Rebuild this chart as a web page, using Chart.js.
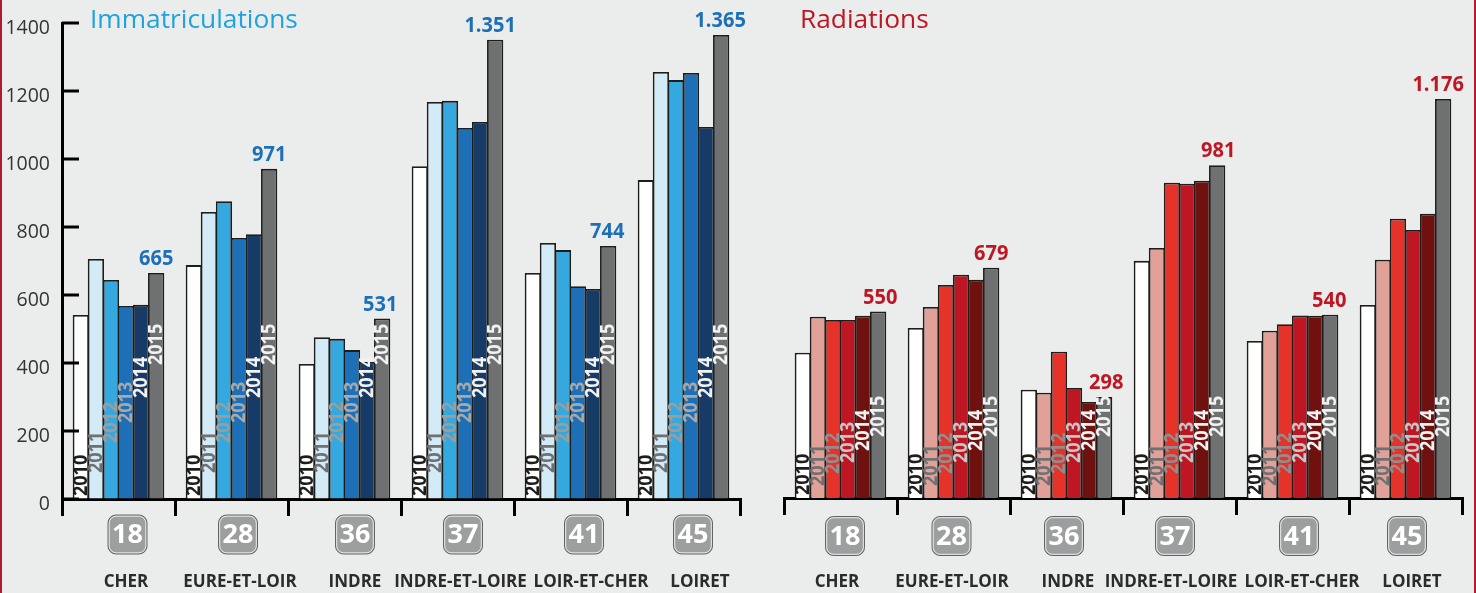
<!DOCTYPE html>
<html><head><meta charset="utf-8">
<style>
html,body{margin:0;padding:0;background:#ebecec;width:1476px;height:593px;overflow:hidden}
canvas{position:absolute;top:0}
.edge{position:absolute;top:0;width:2px;height:593px;background:#b01c2e}
</style>
<script src="https://cdn.jsdelivr.net/npm/chart.js@4/dist/chart.umd.min.js"></script>
</head><body>
<div class="edge" style="left:0"></div>
<div class="edge" style="left:1474px"></div>
<canvas id="left" width="760" height="593" style="left:0"></canvas>
<canvas id="right" width="714" height="593" style="left:760px"></canvas>
<script>
const years = ['2010','2011','2012','2013','2014','2015'];
const codes = ['18','28','36','37','41','45'];
const departments = ['CHER','EURE-ET-LOIR','INDRE','INDRE-ET-LOIRE','LOIR-ET-CHER','LOIRET'];
const yTicks = [0,200,400,600,800,1000,1200,1400];

const immat2010 = [541,688,397,979,665,938];
const immat2011 = [706,844,476,1168,753,1256];
const immat2012 = [644,876,471,1171,732,1232];
const immat2013 = [568,768,438,1091,626,1253];
const immat2014 = [571,779,403,1109,618,1094];
const immat2015 = [665,971,531,1351,744,1365];
const immatLabels = ['665','971','531','1.351','744','1.365'];

const radia2010 = [428,501,319,699,463,569];
const radia2011 = [534,563,310,737,493,702];
const radia2012 = [525,628,431,929,512,823];
const radia2013 = [525,658,324,926,538,790];
const radia2014 = [537,643,283,935,537,838];
const radia2015 = [550,679,298,981,540,1176];
const radiaLabels = ['550','679','298','981','540','1.176'];

const blues = ['#ffffff','#d3eaf7','#35a8e0','#1d70b7','#153b66','#6f7072'];
const reds  = ['#ffffff','#e2a198','#e6332a','#be1622','#6f120f','#6f7072'];
const FONT = '"Open Sans"';

function rr(ctx,x,y,w,h,r){ctx.beginPath();ctx.roundRect(x,y,w,h,r);}

function overlay(cfg){
  return {
    id:'overlay',
    afterDatasetsDraw(chart){
      const ctx=chart.ctx, x=chart.scales.x, y=chart.scales.y, base=y.getPixelForValue(0);
      ctx.save();
      if(cfg.yAxis){
        ctx.strokeStyle='#000';ctx.lineWidth=3;
        ctx.font='19.5px '+FONT;ctx.fillStyle='#333';ctx.textAlign='right';ctx.textBaseline='middle';
        yTicks.forEach(v=>{
          const p=y.getPixelForValue(v);
          ctx.beginPath();ctx.moveTo(x.left,p);ctx.lineTo(x.left+17,p);ctx.stroke();
          ctx.fillText(String(v),50,p+5);
        });
      }
      ctx.font='bold 18px '+FONT;ctx.textAlign='left';ctx.textBaseline='middle';
      chart.data.datasets.forEach((d,i)=>{
        chart.getDatasetMeta(i).data.forEach(bar=>{
          ctx.save();
          ctx.translate(bar.x,base-cfg.yearLift[i]);
          ctx.rotate(-Math.PI/2);
          ctx.scale(1,1.12);
          ctx.fillStyle=cfg.yearColors[i];
          ctx.fillText(d.label,0,0.5);
          ctx.restore();
        });
      });
      ctx.font='bold 22px '+FONT;ctx.textAlign='center';ctx.textBaseline='middle';ctx.fillStyle=cfg.valueColor;
      const last=chart.getDatasetMeta(5).data;
      last.forEach((bar,i)=>{
        ctx.save();
        ctx.translate(bar.x+cfg.valueShift[i],bar.y-14);
        ctx.scale(0.91,1);
        ctx.fillText(cfg.valueLabels[i],0,0);
        ctx.restore();
      });
      codes.forEach((c,i)=>{
        const cx=x.getPixelForValue(i)+cfg.badgeShift[i], cy=cfg.badgeY;
        rr(ctx,cx-19.5,cy-19.5,39,39,8);ctx.fillStyle='#9d9e9f';ctx.fill();
        ctx.strokeStyle='#4a4a4a';ctx.lineWidth=0.8;ctx.stroke();
        rr(ctx,cx-18.3,cy-18.3,36.6,36.6,7);ctx.strokeStyle='#f4f4f4';ctx.lineWidth=0.9;ctx.stroke();
        ctx.fillStyle='#fff';ctx.font='bold 27px '+FONT;ctx.textAlign='center';ctx.textBaseline='middle';
        ctx.fillText(c,cx,cy+1);
        ctx.fillStyle='#2b2b2b';ctx.font='bold 17px '+FONT;
        ctx.fillText(departments[i],x.getPixelForValue(i)+cfg.nameShift[i],582);
      });
      ctx.fillStyle=cfg.titleColor;ctx.font='26.3px '+FONT;ctx.textAlign='left';ctx.textBaseline='middle';
      ctx.fillText(cfg.title,cfg.titleX,21);
      ctx.restore();
    }
  };
}

function build(id,series,colors,cfg){
  new Chart(document.getElementById(id),{
    type:'bar',
    data:{labels:departments,datasets:series.map((s,i)=>({
      label:years[i],data:s,backgroundColor:colors[i],
      borderColor:'#1d1d1b',borderWidth:1.8,
      categoryPercentage:0.8,barPercentage:1.08
    }))},
    options:{
      responsive:false,animation:false,
      layout:{padding:cfg.padding},
      plugins:{legend:{display:false},tooltip:{enabled:false},title:{display:false}},
      scales:{
        x:{
          offset:true,
          grid:{offset:true,drawOnChartArea:false,drawTicks:true,tickLength:17,color:'#000',lineWidth:3},
          border:{display:true,color:'#000',width:3},
          ticks:{display:false},
          afterFit(s){s.height=593-cfg.baseY;}
        },
        y:{
          display:cfg.yAxis,min:0,max:1400,
          grid:{drawOnChartArea:false,drawTicks:false},
          border:{display:true,color:'#000',width:3},
          ticks:{display:false,stepSize:200},
          afterFit(s){s.width=cfg.yAxis?62:0;}
        }
      }
    },
    plugins:[overlay(cfg)]
  });
}

build('left',[immat2010,immat2011,immat2012,immat2013,immat2014,immat2015],blues,{
  yAxis:true,baseY:499,padding:{top:23,left:0,right:20,bottom:0},
  yearLift:[3,26,56,76,101,134],
  yearColors:['#1d1d1b','#6f7072','#9d9d9c','#a9a9a9','#f2f2f2','#f2f2f2'],
  valueColor:'#1d70b7',valueLabels:immatLabels,valueShift:[0,0,-2,-5,-1,-1],
  badgeShift:[9,6.5,10.5,5.5,13.5,9.5],badgeY:534.5,
  nameShift:[7.5,8.5,10.5,3,20.5,16.5],
  title:'Immatriculations',titleX:90,titleColor:'#1ea3dd'
});
build('right',[radia2010,radia2011,radia2012,radia2013,radia2014,radia2015],reds,{
  yAxis:false,baseY:498,padding:{top:23,left:24,right:12,bottom:0},
  yearLift:[3,12,24,35,47,61],
  yearColors:['#1d1d1b','#6f7072','#8f8f8f','#c6c6c6','#f2f2f2','#f2f2f2'],
  valueColor:'#be1622',valueLabels:radiaLabels,valueShift:[2,0,2,1,-1,-5],
  badgeShift:[4.5,-2,-2.5,-4.5,6.5,1.5],badgeY:536,
  nameShift:[-3.5,-1.5,1.5,-8.5,9.5,6.5],
  title:'Radiations',titleX:40,titleColor:'#be1622'
});
</script>
</body></html>
